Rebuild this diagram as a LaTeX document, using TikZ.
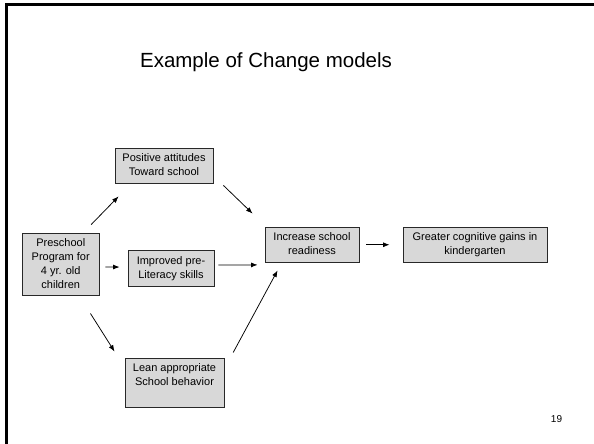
\documentclass[tikz,border=0pt]{standalone}
\usepackage{fontspec}
\setmainfont{Liberation Sans}
\usetikzlibrary{arrows.meta,calc}
\definecolor{boxgray}{RGB}{216,216,216}
\definecolor{edgegray}{RGB}{40,40,40}
% stack of centred lines, vertically centred on the node
\newcommand\boxlines[1]{\begin{tabular}{@{}c@{}}#1\end{tabular}}

\begin{document}
\begin{tikzpicture}[x=1pt,y=-1pt,
  box/.style={draw=edgegray, fill=boxgray, line width=0.9pt, inner sep=0pt,
    font=\fontsize{11}{14}\selectfont},
  arr/.style={-{Latex[length=6.5pt,width=5pt]}, line width=0.75pt}]
\useasboundingbox (0,0) rectangle (594,444);

% slide frame (top and left edges)
\draw[line width=2.2pt] (6.5,444) -- (6.5,4.5) -- (594,4.5);

% title and page number
\node[anchor=base, font=\fontsize{20.5}{24}\selectfont] (title) at (266,67.5) {Example of Change models};
\node[anchor=base, font=\fontsize{10}{12}\selectfont] (page) at (556.5,422) {19};

% boxes
\node[box, minimum width=76.5pt, minimum height=61.7pt] (pre) at (60.75,264.2)
  {\boxlines{Preschool\\Program for\\4 yr. old\\children}};
\node[box, minimum width=98pt, minimum height=35pt] (pos) at (164,165.5)
  {\boxlines{Positive attitudes\\Toward school}};
\node[box, minimum width=86pt, minimum height=36.5pt] (imp) at (171,268.25)
  {\boxlines{Improved pre-\\Literacy skills}};
\node[box, minimum width=99pt, minimum height=49pt] (lea) at (174.5,382.5)
  {\boxlines{Lean appropriate\\School behavior\\\mbox{}}};
\node[box, minimum width=94pt, minimum height=34.5pt] (inc) at (312,244.75)
  {\boxlines{Increase school\\readiness}};
\node[box, minimum width=144pt, minimum height=34.5pt] (gre) at (475,244.75)
  {\boxlines{Greater cognitive gains in\\kindergarten}};

% connectors
\draw[arr] ($(pre.north east)+(-8.3,-8.3)$) -- ($(pos.south west)+(4,13)$);
\draw[arr] ($(pre.east)+(6,2.8)$) -- ($(imp.west)+(-8,-1.2)$);
\draw[arr] ($(pre.south east)+(-9,18)$) -- ($(lea.north west)+(-10,-6)$);
\draw[arr] ($(pos.south east)+(10,2)$) -- ($(inc.north west)+(-12,-13.5)$);
\draw[arr] ($(imp.east)+(4,-3.2)$) -- ($(inc.west)+(-7,20.15)$);
\draw[arr] ($(lea.north east)+(8.7,-5)$) -- ($(inc.south west)+(13,8)$);
\draw[arr] ($(inc.east)+(7,0)$) -- ($(gre.west)+(-13,0)$);
\end{tikzpicture}
\end{document}
